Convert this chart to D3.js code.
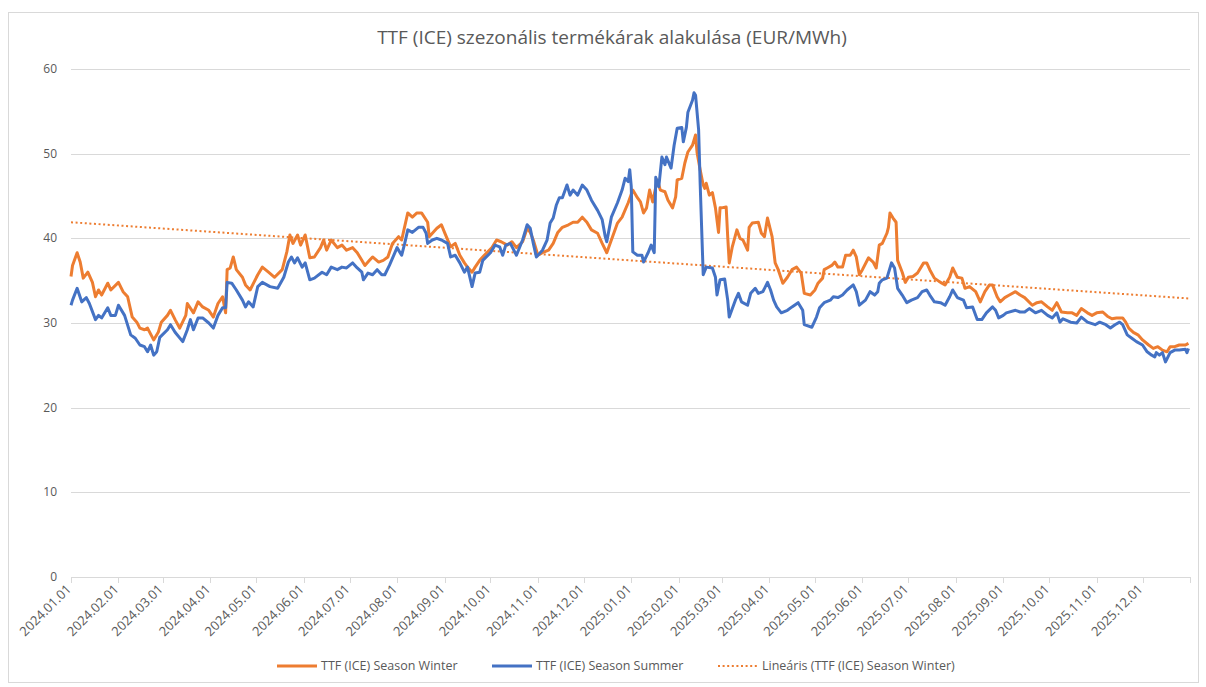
<!DOCTYPE html>
<html>
<head>
<meta charset="UTF-8">
<title>TTF (ICE) szezonális termékárak</title>
<style>
  body { margin: 0; background: #fff; }
  svg text { font-family: "Open Sans", "Noto Sans", sans-serif; fill: #595959; }
</style>
</head>
<body>
<svg id="chart"></svg>
<script src="https://d3js.org/d3.v7.min.js"></script>
<script>

// --- data ---
const winterDates = [
  "2024-01-01","2024-01-02","2024-01-05","2024-01-07","2024-01-09","2024-01-12","2024-01-15","2024-01-17","2024-01-19","2024-01-21","2024-01-25","2024-01-27",
  "2024-02-01","2024-02-04","2024-02-07","2024-02-10","2024-02-13","2024-02-15","2024-02-18","2024-02-20","2024-02-24","2024-02-27","2024-02-29",
  "2024-03-04","2024-03-06","2024-03-09","2024-03-12","2024-03-16","2024-03-17","2024-03-21","2024-03-24","2024-03-27","2024-03-31",
  "2024-04-03","2024-04-06","2024-04-09","2024-04-11","2024-04-12","2024-04-14","2024-04-16","2024-04-18","2024-04-22","2024-04-24","2024-04-27",
  "2024-05-02","2024-05-05","2024-05-09","2024-05-13","2024-05-18","2024-05-21","2024-05-23","2024-05-25","2024-05-28","2024-05-30",
  "2024-06-02","2024-06-05","2024-06-08","2024-06-12","2024-06-14","2024-06-16","2024-06-19","2024-06-23","2024-06-26","2024-06-29",
  "2024-07-03","2024-07-06","2024-07-09","2024-07-11","2024-07-14","2024-07-16","2024-07-20","2024-07-23","2024-07-26","2024-07-29",
  "2024-08-02","2024-08-04","2024-08-08","2024-08-11","2024-08-14","2024-08-17","2024-08-21","2024-08-22","2024-08-27","2024-08-30",
  "2024-09-01","2024-09-05","2024-09-08","2024-09-11","2024-09-14","2024-09-16","2024-09-19","2024-09-21","2024-09-24","2024-09-27",
  "2024-10-02","2024-10-05","2024-10-08","2024-10-12","2024-10-15","2024-10-18","2024-10-22","2024-10-25","2024-10-27","2024-10-29",
  "2024-11-01","2024-11-04","2024-11-08","2024-11-11","2024-11-14","2024-11-17","2024-11-21","2024-11-24","2024-11-27","2024-11-30",
  "2024-12-03","2024-12-06","2024-12-10","2024-12-13","2024-12-16","2024-12-19","2024-12-23","2024-12-26","2024-12-30",
  "2025-01-02","2025-01-05","2025-01-07","2025-01-09","2025-01-11","2025-01-13","2025-01-15","2025-01-18","2025-01-20","2025-01-23","2025-01-25","2025-01-28","2025-01-30","2025-01-31",
  "2025-02-03","2025-02-05","2025-02-07","2025-02-10","2025-02-12","2025-02-13","2025-02-15","2025-02-17","2025-02-18","2025-02-19","2025-02-21","2025-02-23","2025-02-25","2025-02-27","2025-02-28",
  "2025-03-01","2025-03-04","2025-03-05","2025-03-06","2025-03-08","2025-03-11","2025-03-13","2025-03-15","2025-03-18","2025-03-19","2025-03-21","2025-03-25","2025-03-27","2025-03-29","2025-03-31",
  "2025-04-03","2025-04-05","2025-04-07","2025-04-10","2025-04-13","2025-04-16","2025-04-19","2025-04-22","2025-04-24","2025-04-28",
  "2025-05-01","2025-05-03","2025-05-06","2025-05-07","2025-05-09","2025-05-12","2025-05-14","2025-05-16","2025-05-19","2025-05-21","2025-05-24","2025-05-26","2025-05-28","2025-05-30",
  "2025-06-01","2025-06-05","2025-06-08","2025-06-10","2025-06-12","2025-06-14","2025-06-17","2025-06-18","2025-06-19","2025-06-21","2025-06-23","2025-06-24","2025-06-27","2025-06-29",
  "2025-07-01","2025-07-04","2025-07-07","2025-07-11","2025-07-13","2025-07-15","2025-07-18","2025-07-22","2025-07-25","2025-07-28","2025-07-30",
  "2025-08-02","2025-08-05","2025-08-07","2025-08-10","2025-08-14","2025-08-17","2025-08-20","2025-08-23","2025-08-25","2025-08-28","2025-08-30",
  "2025-09-02","2025-09-05","2025-09-09","2025-09-12","2025-09-15","2025-09-20","2025-09-23","2025-09-26","2025-09-30",
  "2025-10-03","2025-10-06","2025-10-09","2025-10-13","2025-10-16","2025-10-19","2025-10-22","2025-10-26","2025-10-29",
  "2025-11-01","2025-11-05","2025-11-08","2025-11-11","2025-11-14","2025-11-18","2025-11-20","2025-11-22","2025-11-25","2025-11-28",
  "2025-12-01","2025-12-05","2025-12-08","2025-12-11","2025-12-14","2025-12-17","2025-12-19","2025-12-22","2025-12-25","2025-12-29","2025-12-31"
];
const winterValues = [
  35.5,36.8,38.3,37.2,35.3,36.0,34.8,33.1,33.9,33.3,34.7,33.9,
  34.8,33.7,33.1,30.7,30.1,29.4,29.2,29.4,28.0,28.9,30.1,
  30.9,31.5,30.4,29.4,30.9,32.3,31.2,32.5,31.9,31.5,
  30.7,32.3,33.1,31.2,36.3,36.5,37.8,36.3,35.4,34.5,33.9,
  35.7,36.6,36.0,35.4,36.3,38.4,40.4,39.4,40.4,39.2,
  40.4,37.7,37.8,38.9,39.8,38.6,39.8,38.9,39.2,38.6,
  38.9,38.3,37.4,36.8,37.4,37.8,37.2,37.4,37.8,39.4,
  40.2,39.8,43.0,42.5,43.0,43.0,41.9,40.2,41.2,41.6,
  40.7,39.0,39.4,38.0,37.1,36.6,36.0,36.6,37.4,38.0,
  38.9,39.8,39.6,39.2,39.6,38.9,39.6,41.2,40.7,39.8,
  38.0,38.3,38.6,39.4,40.7,41.3,41.6,41.9,41.9,42.5,
  41.9,41.0,40.6,39.4,38.3,39.8,41.8,42.5,44.2,
  45.7,44.8,44.3,43.0,43.6,45.7,44.3,46.9,45.7,45.5,44.5,43.6,44.9,46.9,
  47.1,48.9,50.2,51.0,52.2,50.1,48.1,46.3,45.9,46.5,45.1,45.4,43.6,40.7,43.6,
  43.6,43.7,40.2,37.1,39.0,41.0,40.0,39.8,38.6,41.3,41.8,41.9,40.6,40.2,42.4,
  40.2,37.1,36.3,34.7,35.4,36.3,36.6,35.9,33.5,33.3,
  33.9,34.7,35.3,36.3,36.5,36.8,37.2,36.6,36.6,38.0,38.0,38.6,37.8,35.7,
  36.3,37.7,37.2,36.5,39.2,39.4,40.6,41.3,43.0,42.4,41.9,37.4,36.0,34.8,
  35.4,35.5,35.9,37.1,37.1,36.3,35.3,34.8,34.5,35.4,36.5,
  35.4,35.3,34.1,34.3,33.7,32.5,33.7,34.5,34.5,33.1,32.5,
  33.0,33.3,33.7,33.3,33.0,32.1,32.4,32.5,31.9,
  31.5,32.4,31.3,31.2,31.2,30.9,31.7,31.2,30.9,
  31.2,31.3,30.8,30.5,30.6,30.6,30.1,29.4,28.9,28.6,
  28.0,27.4,27.0,27.2,26.8,26.6,27.2,27.2,27.4,27.4,27.6
];

const summerDates = [
  "2024-01-01","2024-01-02","2024-01-05","2024-01-08","2024-01-11","2024-01-13","2024-01-17","2024-01-19","2024-01-21","2024-01-25","2024-01-27","2024-01-30",
  "2024-02-01","2024-02-05","2024-02-09","2024-02-12","2024-02-15","2024-02-18","2024-02-20","2024-02-22","2024-02-24","2024-02-26","2024-02-28",
  "2024-03-04","2024-03-06","2024-03-09","2024-03-14","2024-03-17","2024-03-19","2024-03-21","2024-03-24","2024-03-27","2024-03-31",
  "2024-04-03","2024-04-06","2024-04-09","2024-04-11","2024-04-12","2024-04-15","2024-04-18","2024-04-22","2024-04-24","2024-04-26","2024-04-29",
  "2024-05-02","2024-05-05","2024-05-10","2024-05-15","2024-05-19","2024-05-22","2024-05-24","2024-05-26","2024-05-28","2024-05-31",
  "2024-06-02","2024-06-05","2024-06-08","2024-06-13","2024-06-16","2024-06-19","2024-06-23","2024-06-26","2024-06-29",
  "2024-07-03","2024-07-06","2024-07-09","2024-07-10","2024-07-13","2024-07-16","2024-07-19","2024-07-22","2024-07-24","2024-07-27",
  "2024-08-01","2024-08-04","2024-08-06","2024-08-08","2024-08-11","2024-08-15","2024-08-18","2024-08-20","2024-08-21","2024-08-24","2024-08-27","2024-08-30",
  "2024-09-03","2024-09-05","2024-09-08","2024-09-11","2024-09-14","2024-09-16","2024-09-19","2024-09-21","2024-09-24","2024-09-26",
  "2024-10-01","2024-10-04","2024-10-07","2024-10-09","2024-10-11","2024-10-14","2024-10-18","2024-10-22","2024-10-25","2024-10-27","2024-10-29","2024-10-31",
  "2024-11-04","2024-11-07","2024-11-09","2024-11-11","2024-11-13","2024-11-15","2024-11-17","2024-11-20","2024-11-22","2024-11-24","2024-11-27","2024-11-30",
  "2024-12-03","2024-12-06","2024-12-10","2024-12-13","2024-12-15","2024-12-16","2024-12-19","2024-12-23","2024-12-26","2024-12-28","2024-12-30","2024-12-31",
  "2025-01-01","2025-01-02","2025-01-05","2025-01-08","2025-01-09","2025-01-12","2025-01-14","2025-01-16","2025-01-17","2025-01-19","2025-01-21","2025-01-23","2025-01-24","2025-01-27","2025-01-29","2025-01-31",
  "2025-02-03","2025-02-04","2025-02-06","2025-02-07","2025-02-10","2025-02-11","2025-02-12","2025-02-14","2025-02-15","2025-02-17","2025-02-19","2025-02-23","2025-02-25","2025-02-26","2025-02-28",
  "2025-03-03","2025-03-05","2025-03-06","2025-03-10","2025-03-12","2025-03-14","2025-03-18","2025-03-20","2025-03-23","2025-03-25","2025-03-28","2025-03-31",
  "2025-04-02","2025-04-04","2025-04-06","2025-04-09","2025-04-13","2025-04-16","2025-04-20","2025-04-23","2025-04-24","2025-04-29",
  "2025-05-02","2025-05-04","2025-05-07","2025-05-11","2025-05-13","2025-05-16","2025-05-19","2025-05-22","2025-05-26","2025-05-28","2025-05-30",
  "2025-06-03","2025-06-06","2025-06-09","2025-06-11","2025-06-12","2025-06-14","2025-06-17","2025-06-20","2025-06-22","2025-06-24","2025-06-27","2025-06-30",
  "2025-07-03","2025-07-07","2025-07-10","2025-07-13","2025-07-15","2025-07-18","2025-07-22","2025-07-25","2025-07-28","2025-07-30",
  "2025-08-02","2025-08-06","2025-08-08","2025-08-12","2025-08-15","2025-08-18","2025-08-21","2025-08-25","2025-08-27","2025-08-29",
  "2025-09-01","2025-09-03","2025-09-09","2025-09-12","2025-09-15","2025-09-18","2025-09-22","2025-09-26","2025-09-30",
  "2025-10-03","2025-10-06","2025-10-08","2025-10-10","2025-10-15","2025-10-19","2025-10-22","2025-10-26","2025-10-31",
  "2025-11-03","2025-11-07","2025-11-10","2025-11-13","2025-11-16","2025-11-18","2025-11-21","2025-11-24","2025-11-27",
  "2025-12-01","2025-12-04","2025-12-07","2025-12-09","2025-12-10","2025-12-12","2025-12-14","2025-12-16","2025-12-19","2025-12-22","2025-12-25","2025-12-29","2025-12-30","2025-12-31"
];
const summerValues = [
  32.1,32.7,34.1,32.5,33.0,32.3,30.4,30.9,30.6,31.8,30.9,30.9,
  32.1,30.9,28.6,28.2,27.4,27.2,26.6,27.4,26.2,26.6,28.3,
  29.2,29.8,28.9,27.8,29.2,30.4,29.2,30.6,30.6,30.0,
  29.4,30.9,31.8,31.8,34.8,34.7,33.9,32.7,31.9,32.5,31.9,
  34.3,34.8,34.3,34.1,35.4,37.2,37.8,37.1,37.7,36.6,
  37.1,35.1,35.3,36.0,35.7,36.6,36.3,36.6,36.5,
  37.1,36.5,36.0,35.1,35.9,35.7,36.3,35.7,35.7,36.8,
  38.9,38.0,39.4,41.0,40.7,41.3,41.3,40.6,39.4,39.8,40.0,39.8,
  39.4,37.8,38.0,37.1,36.0,36.6,34.3,35.9,36.0,37.4,
  38.3,39.2,39.0,38.0,39.2,39.4,38.0,39.8,41.6,41.2,39.4,37.8,
  38.6,39.8,41.8,42.4,43.9,44.8,44.8,46.3,45.1,45.7,45.1,46.3,
  45.7,44.5,43.3,42.2,40.2,39.6,42.5,44.2,45.7,47.1,46.7,48.1,
  46.1,38.4,38.0,38.0,37.2,38.3,39.2,38.3,47.2,46.1,49.6,48.7,49.6,48.3,51.0,53.0,
  53.1,51.4,53.1,54.9,56.3,57.2,56.9,52.8,46.5,35.7,36.6,36.5,35.4,33.3,35.1,
  35.2,32.7,30.7,32.7,33.5,32.5,32.1,33.5,34.1,33.5,33.7,34.8,
  33.9,32.7,31.9,31.2,31.5,31.9,32.4,31.5,29.8,29.5,
  30.7,31.8,32.4,32.7,33.1,33.0,33.3,33.9,34.5,33.7,32.1,
  32.7,33.7,33.3,33.7,34.7,35.1,35.3,37.1,36.5,34.1,33.3,32.4,
  32.7,33.0,33.7,33.9,33.3,32.5,32.4,32.1,33.1,33.9,
  33.0,32.7,31.8,31.9,30.4,30.4,31.2,31.9,31.5,30.6,
  30.9,31.2,31.5,31.3,31.3,31.7,31.2,31.5,30.9,
  30.6,31.2,30.1,30.5,30.1,30.0,30.7,30.1,29.8,
  30.1,29.8,29.4,29.8,30.1,29.8,28.6,28.2,27.8,
  27.4,26.6,26.2,26.0,26.5,26.2,26.5,25.4,26.5,26.8,26.8,26.9,26.5,27.0
];

// Excel's linear trendline for the winter series, endpoints
const trendDates = ["2024-01-01", "2025-12-31"];
const trendValues = [41.9, 32.9];

const yTicks = [0, 10, 20, 30, 40, 50, 60];
const monthTicks = [
  "2024.01.01","2024.02.01","2024.03.01","2024.04.01","2024.05.01","2024.06.01",
  "2024.07.01","2024.08.01","2024.09.01","2024.10.01","2024.11.01","2024.12.01",
  "2025.01.01","2025.02.01","2025.03.01","2025.04.01","2025.05.01","2025.06.01",
  "2025.07.01","2025.08.01","2025.09.01","2025.10.01","2025.11.01","2025.12.01"
];
const seriesNames = ["TTF (ICE) Season Winter", "TTF (ICE) Season Summer", "Lineáris (TTF (ICE) Season Winter)"];
const titleText = "TTF (ICE) szezonális termékárak alakulása (EUR/MWh)";

console.assert(winterDates.length === winterValues.length, "winter length");
console.assert(summerDates.length === summerValues.length, "summer length");

// --- setup ---
const width = 1206, height = 687;
const orange = "#ED7D31", blue = "#4472C4", grid = "#d9d9d9";
const parseIso = d3.timeParse("%Y-%m-%d");
const parseTick = d3.timeParse("%Y.%m.%d");

const winter = winterDates.map((d, i) => ({date: parseIso(d), value: winterValues[i]}));
const summer = summerDates.map((d, i) => ({date: parseIso(d), value: summerValues[i]}));
const trend = trendDates.map((d, i) => ({date: parseIso(d), value: trendValues[i]}));

const svg = d3.select("#chart")
    .attr("width", width)
    .attr("height", height);

// chart border
svg.append("rect")
    .attr("x", 8.5).attr("y", 12.5)
    .attr("width", 1190).attr("height", 670)
    .attr("fill", "#fff")
    .attr("stroke", grid);

const x = d3.scaleTime()
    .domain([new Date(2024, 0, 1), new Date(2026, 0, 1)])
    .range([71, 1190]);
const y = d3.scaleLinear()
    .domain([0, 60])
    .range([577, 69]);

// title
svg.append("text")
    .attr("x", 612).attr("y", 44)
    .attr("text-anchor", "middle")
    .style("font-size", "19px")
    .text(titleText);

// horizontal gridlines
svg.append("g")
    .selectAll("line")
    .data(yTicks.filter(t => t > 0))
    .join("line")
    .attr("x1", x.range()[0]).attr("x2", x.range()[1])
    .attr("y1", d => Math.round(y(d)) + 0.5)
    .attr("y2", d => Math.round(y(d)) + 0.5)
    .attr("stroke", grid);

// y labels
svg.append("g")
    .selectAll("text")
    .data(yTicks)
    .join("text")
    .attr("x", 57)
    .attr("y", d => y(d) + 4)
    .attr("text-anchor", "end")
    .style("font-size", "12px")
    .text(d => d);

// x axis line + ticks (monthly, one extra at the end)
const tickDates = monthTicks.map(parseTick).concat([new Date(2026, 0, 1)]);
const xg = svg.append("g");
xg.append("line")
    .attr("x1", x.range()[0]).attr("x2", x.range()[1])
    .attr("y1", 577.5).attr("y2", 577.5)
    .attr("stroke", grid);
xg.selectAll("line.tick")
    .data(tickDates)
    .join("line")
    .attr("class", "tick")
    .attr("x1", d => Math.round(x(d)) + 0.5)
    .attr("x2", d => Math.round(x(d)) + 0.5)
    .attr("y1", 577).attr("y2", 583)
    .attr("stroke", grid);
xg.selectAll("text")
    .data(monthTicks)
    .join("text")
    .attr("text-anchor", "end")
    .attr("transform", d => "translate(" + (x(parseTick(d)) + 1) + ",590) rotate(-45)")
    .style("font-size", "13px")
    .text(d => d);

const line = d3.line()
    .x(d => x(d.date))
    .y(d => y(d.value));

svg.append("path")
    .datum(trend)
    .attr("d", line)
    .attr("fill", "none")
    .attr("stroke", orange)
    .attr("stroke-width", 2)
    .attr("stroke-dasharray", "2 2.6");

svg.append("path")
    .datum(winter)
    .attr("d", line)
    .attr("fill", "none")
    .attr("stroke", orange)
    .attr("stroke-width", 3)
    .attr("stroke-linejoin", "round");

svg.append("path")
    .datum(summer)
    .attr("d", line)
    .attr("fill", "none")
    .attr("stroke", blue)
    .attr("stroke-width", 3)
    .attr("stroke-linejoin", "round");

// legend
const legendItems = [
  {name: seriesNames[0], color: orange, x: 277, dash: null, w: 3},
  {name: seriesNames[1], color: blue, x: 492, dash: null, w: 3},
  {name: seriesNames[2], color: orange, x: 718, dash: "2 2.6", w: 2}
];
const lg = svg.append("g");
lg.selectAll("line")
    .data(legendItems)
    .join("line")
    .attr("x1", d => d.x).attr("x2", d => d.x + 40)
    .attr("y1", 666).attr("y2", 666)
    .attr("stroke", d => d.color)
    .attr("stroke-width", d => d.w)
    .attr("stroke-dasharray", d => d.dash);
lg.selectAll("text")
    .data(legendItems)
    .join("text")
    .attr("x", d => d.x + 44)
    .attr("y", 670)
    .style("font-size", "12.5px")
    .text(d => d.name);

</script>
</body>
</html>
